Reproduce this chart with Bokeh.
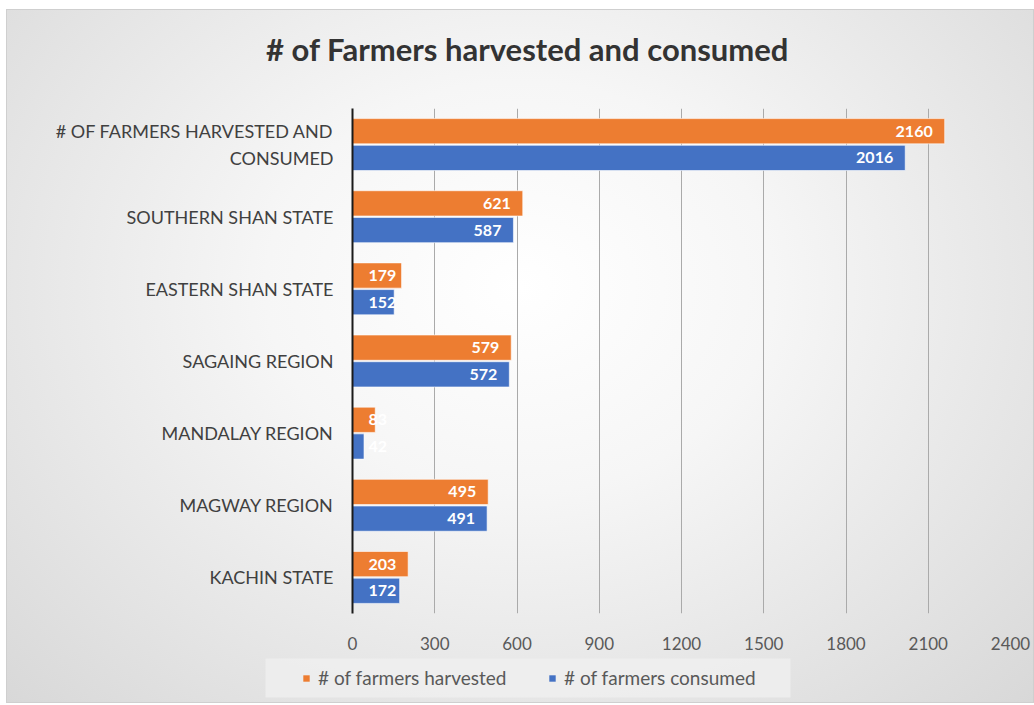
from bokeh.plotting import figure
from bokeh.layouts import column, row
from bokeh.models import (ColumnDataSource, Range1d, FixedTicker, Legend,
                          LegendItem, LabelSet, BoxAnnotation, Label)
from bokeh.core.properties import value
from bokeh.embed import file_html
from bokeh.resources import INLINE

# ---- data ----
categories = ["# OF FARMERS HARVESTED AND\nCONSUMED", "SOUTHERN SHAN STATE",
              "EASTERN SHAN STATE", "SAGAING REGION", "MANDALAY REGION",
              "MAGWAY REGION", "KACHIN STATE"]
harvested = [2160, 621, 179, 579, 83, 495, 203]
consumed = [2016, 587, 152, 572, 42, 491, 172]
x_ticks = [0, 300, 600, 900, 1200, 1500, 1800, 2100, 2400]
series_names = ["# of farmers harvested", "# of farmers consumed"]
title_text = "# of Farmers harvested and consumed"

ORANGE = "#ED7D31"
BLUE = "#4472C4"
FONT = "Lato"
n = len(categories)
ypos = [n - 1 - i for i in range(n)]
BAR_H = 0.35
OFF = 0.185

W = 1026
H_TITLE, H_MAIN, H_LEG = 98, 549, 45


def strip(h):
    f = figure(width=W, height=h, output_backend="svg", toolbar_location=None,
               x_range=Range1d(0, W), y_range=Range1d(0, h),
               x_axis_location=None, y_axis_location=None,
               min_border=0, min_border_left=0, min_border_right=0,
               min_border_top=0, min_border_bottom=0)
    f.border_fill_color = None
    f.background_fill_color = None
    f.outline_line_color = None
    f.grid.visible = False
    return f


# ---- title strip ----
tt = strip(H_TITLE)
tt.add_layout(Label(x=520, y=H_TITLE - 38, text=title_text, text_align="center",
                    text_baseline="middle", text_font=FONT, text_font_style="bold",
                    text_font_size="31px", text_color="#333333"))

# ---- main chart ----
p = figure(width=W, height=H_MAIN, output_backend="svg", toolbar_location=None,
           title=None,
           x_range=Range1d(0, 2400), y_range=Range1d(-0.5, n - 0.5),
           min_border_left=345, min_border_right=23, min_border_top=0,
           min_border_bottom=44)
p.border_fill_color = None
p.background_fill_color = None
p.outline_line_color = None

# grid
p.ygrid.grid_line_color = None
p.xgrid.grid_line_color = "#aaaaaa"
p.xgrid.grid_line_width = 1
p.xgrid.ticker = FixedTicker(ticks=x_ticks)

# axes
p.xaxis.ticker = FixedTicker(ticks=x_ticks)
p.xaxis.axis_line_color = None
p.xaxis.major_tick_line_color = None
p.xaxis.minor_tick_line_color = None
p.xaxis.major_label_text_font = FONT
p.xaxis.major_label_text_font_size = "17px"
p.xaxis.major_label_text_color = "#595959"
p.xaxis.major_label_standoff = 17

p.yaxis.ticker = FixedTicker(ticks=ypos)
p.yaxis.major_label_overrides = {y: c for y, c in zip(ypos, categories)}
p.yaxis.axis_line_color = "#1a1a1a"
p.yaxis.axis_line_width = 2
p.yaxis.major_tick_line_color = None
p.yaxis.minor_tick_line_color = None
p.yaxis.major_label_text_font = FONT
p.yaxis.major_label_text_font_size = "18px"
p.yaxis.major_label_text_color = "#404040"
p.yaxis.major_label_standoff = 13

src = ColumnDataSource(dict(
    y_h=[y + OFF for y in ypos], y_c=[y - OFF for y in ypos],
    harvested=harvested, consumed=consumed))

p.hbar(y="y_h", right="harvested", left=0, height=BAR_H, source=src,
       fill_color=ORANGE, line_color="white", line_alpha=0.6, line_width=1)
p.hbar(y="y_c", right="consumed", left=0, height=BAR_H, source=src,
       fill_color=BLUE, line_color="white", line_alpha=0.6, line_width=1)

# value labels (inside end; short bars get the label at the base)
SHORT = 250
for vals, ys in ((harvested, [y + OFF for y in ypos]), (consumed, [y - OFF for y in ypos])):
    long_src = ColumnDataSource(dict(
        x=[v for v in vals if v >= SHORT],
        y=[y for v, y in zip(vals, ys) if v >= SHORT],
        t=[str(v) for v in vals if v >= SHORT]))
    short_src = ColumnDataSource(dict(
        x=[0 for v in vals if v < SHORT],
        y=[y for v, y in zip(vals, ys) if v < SHORT],
        t=[str(v) for v in vals if v < SHORT]))
    p.add_layout(LabelSet(x="x", y="y", text="t", source=long_src, x_offset=-12,
                          text_align="right", text_baseline="middle",
                          text_color="white", text_font=value(FONT),
                          text_font_style="bold", text_font_size="16px"))
    p.add_layout(LabelSet(x="x", y="y", text="t", source=short_src, x_offset=16,
                          text_align="left", text_baseline="middle",
                          text_color="white", text_font=value(FONT),
                          text_font_style="bold", text_font_size="16px"))

# ---- legend strip ----
lg = strip(H_LEG)
lg.add_layout(BoxAnnotation(left=258, right=783, bottom=5, top=44,
                            fill_color="#efefef", fill_alpha=0.85, line_color=None))
nan = float("nan")
proxy = ColumnDataSource(dict(l=[nan], r=[nan], t=[nan], b=[nan]))
lh = lg.quad(left="l", right="r", top="t", bottom="b", source=proxy,
             fill_color=ORANGE, line_color=None)
lc = lg.quad(left="l", right="r", top="t", bottom="b", source=proxy,
             fill_color=BLUE, line_color=None)
legend = Legend(items=[LegendItem(label=series_names[0], renderers=[lh]),
                       LegendItem(label=series_names[1], renderers=[lc])],
                orientation="horizontal", location=(295, 13))
legend.background_fill_alpha = 0
legend.border_line_color = None
legend.label_text_font = FONT
legend.label_text_font_size = "19px"
legend.label_text_color = "#595959"
legend.glyph_width = 8
legend.glyph_height = 8
legend.label_standoff = 8
legend.label_width = 200
legend.spacing = 30
legend.padding = 10
legend.margin = 0
lg.add_layout(legend, "center")

layout = column(row(tt), p, row(lg), spacing=0)
layout.styles = {"background-image":
                 "radial-gradient(ellipse at 50% 40%, #ffffff 0%, #f6f6f6 35%, #d8d8d8 100%)",
                 "border": "1px solid #cfcfcf",
                 "margin-left": "6px", "margin-top": "9px"}

open("out.html", "w").write(file_html(layout, INLINE))
